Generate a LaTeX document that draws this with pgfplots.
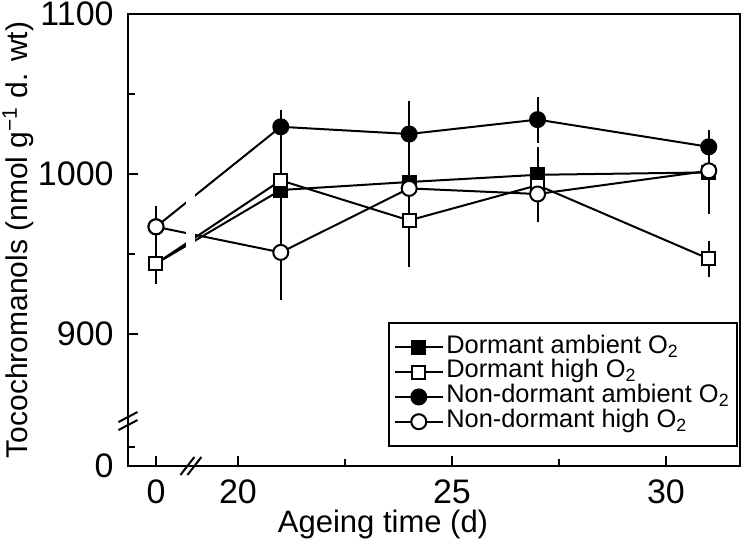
\documentclass[border=0pt]{standalone}
\usepackage{fontspec}
\setmainfont{Liberation Sans}
\usepackage{pgfplots}
\pgfplotsset{compat=1.18}
\begin{document}
\begin{tikzpicture}
\path[use as bounding box] (-64pt,-44pt) rectangle (311pt,233pt);
\begin{axis}[
  at={(0,0)}, anchor=south west,
  width=306pt, height=226pt, scale only axis,
  xmin=17.43, xmax=31.73, ymin=817.5, ymax=1100,
  axis line style={line width=1pt},
  tick align=inside, xtick pos=bottom, ytick pos=left,
  xtick={18.084,20,25,30}, xticklabels={0,20,25,30},
  minor xtick={22.5,27.5},
  ytick={817.5,900,1000,1100}, yticklabels={0,900,1000,1100},
  minor ytick={829.4,950,1050},
  major tick length=5.25pt, minor tick length=3.5pt,
  every tick/.style={line width=1pt, black},
  tick label style={font=\fontsize{17}{20}\selectfont, inner sep=0pt},
  xticklabel style={yshift=-6.5pt},
  yticklabel style={xshift=-7pt},
  xlabel={Ageing time (d)},
  ylabel={Tocochromanols (nmol g\textsuperscript{−1} d. wt)},
  xlabel style={at={(axis description cs:0.4167,-0.1302)}, anchor=center, font=\fontsize{15.5}{18}\selectfont},
  ylabel style={at={(axis description cs:-0.1797,0.5)}, anchor=center, font=\fontsize{15}{18}\selectfont},
  clip=false,
  legend style={at={(0.997,0.042)}, anchor=south east, draw=black, line width=1pt, fill=white,
    font=\fontsize{12.7}{14}\selectfont, cells={anchor=west}, inner xsep=2.5pt, inner ysep=6.4pt,
    row sep=0.9pt, nodes={inner xsep=1.25pt, inner ysep=0pt, text height=8.6pt, text depth=2.9pt}},
  legend image code/.code={\path (0pt,0pt) -- (23.75pt,0pt);
    \draw[mark repeat=2,mark phase=2,#1] plot coordinates {(1.75pt,0pt) (11.75pt,0pt) (21.75pt,0pt)};},
]
% Dormant ambient O2
\addplot[black, line width=1pt, mark=square*, mark size=3.25pt, mark options={fill=black, solid},
  error bars/.cd, y dir=both, y explicit, error bar style={line width=1pt},
  error mark options={line width=1pt, mark size=2.25pt}]
  coordinates {(18.084,944) +- (0,10) (21,990) +- (0,18) (24,995) +- (0,14) (27,999.5) +- (0,14.5) (31,1001) +- (0,23)};
% Dormant high O2
\addplot[black, line width=1pt, mark=square*, mark size=3.25pt, mark options={fill=white, solid},
  error bars/.cd, y dir=both, y explicit, error bar style={line width=1pt},
  error mark options={line width=1pt, mark size=2.25pt}]
  coordinates {(18.084,944) +- (0,10) (21,996) +- (0,20) (24,971) +- (0,26) (27,993) +- (0,20) (31,947) +- (0,8.5)};
% Non-dormant ambient O2
\addplot[black, line width=1pt, mark=*, mark size=3.75pt, mark options={fill=black, solid},
  error bars/.cd, y dir=both, y explicit, error bar style={line width=1pt},
  error mark options={line width=1pt, mark size=2.25pt}]
  coordinates {(18.084,967) +- (0,10) (21,1029.5) +- (0,8) (24,1025) +- (0,18) (27,1034) +- (0,11.5) (31,1017) +- (0,8)};
% Non-dormant high O2
\addplot[black, line width=1pt, mark=*, mark size=3.75pt, mark options={fill=white, solid},
  error bars/.cd, y dir=both, y explicit, error bar style={line width=1pt},
  error mark options={line width=1pt, mark size=2.25pt}]
  coordinates {(18.084,967) +- (0,10) (21,951) +- (0,27) (24,991) +- (0,9) (27,987.5) +- (0,10) (31,1002) +- (0,17)};
\legend{Dormant ambient O\textsubscript{2}, Dormant high O\textsubscript{2}, Non-dormant ambient O\textsubscript{2}, Non-dormant high O\textsubscript{2}}
% gap in the lines at the axis break
\fill[white] (axis cs:18.785,948) rectangle (axis cs:18.995,996);
% axis break marks
\draw[line width=1pt] ([xshift=-1.75pt]axis cs:18.90,817.5) ++(-3.5pt,-4.5pt) -- ++(7pt,9pt);
\draw[line width=1pt] ([xshift=1.75pt]axis cs:18.90,817.5) ++(-3.5pt,-4.5pt) -- ++(7pt,9pt);
\draw[line width=1pt] ([yshift=-2pt]axis cs:17.43,845.6) ++(-4.75pt,-2.5pt) -- ++(9.5pt,5pt);
\draw[line width=1pt] ([yshift=2pt]axis cs:17.43,845.6) ++(-4.75pt,-2.5pt) -- ++(9.5pt,5pt);
\end{axis}
\end{tikzpicture}
\end{document}
